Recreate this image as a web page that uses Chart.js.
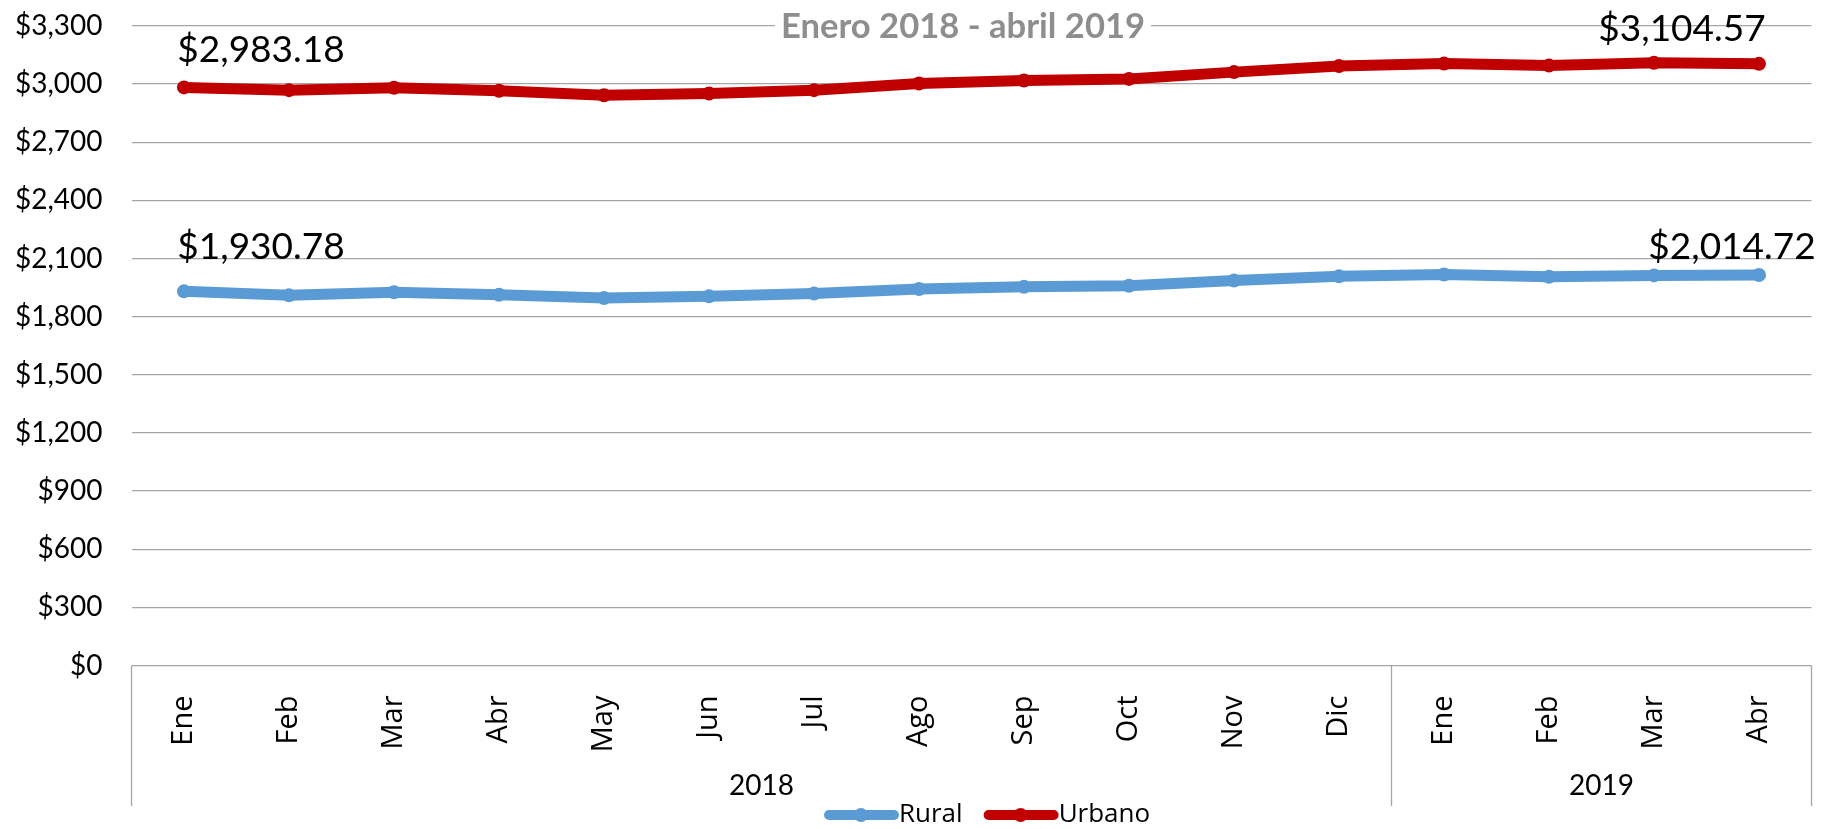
<!DOCTYPE html>
<html lang="es">
<head>
<meta charset="utf-8">
<title>Ingreso Rural / Urbano</title>
<script src="https://cdn.jsdelivr.net/npm/chart.js@4.4.1/dist/chart.umd.min.js"></script>
<style>
    html, body { margin: 0; padding: 0; background: #fff; }
    #contenedor { width: 1824px; height: 829px; }
</style>
</head>
<body>
<div id="contenedor">
    <canvas id="estadistica1" width="1824" height="829"></canvas>
</div>
<script>
const meses = ['Ene', 'Feb', 'Mar', 'Abr', 'May', 'Jun', 'Jul', 'Ago', 'Sep', 'Oct', 'Nov', 'Dic', 'Ene', 'Feb', 'Mar', 'Abr'];
const anios = ['2018', '2018', '2018', '2018', '2018', '2018', '2018', '2018', '2018', '2018', '2018', '2018', '2019', '2019', '2019', '2019'];
const rural = [1930.78, 1910, 1926, 1913, 1896, 1905, 1919, 1943, 1954, 1960, 1987, 2009, 2018, 2006, 2013, 2014.72];
const urbano = [2983.18, 2969, 2981, 2966, 2943, 2952, 2969, 3003, 3019, 3027, 3062, 3093, 3106, 3096, 3110, 3104.57];
const ticksY = [0, 300, 600, 900, 1200, 1500, 1800, 2100, 2400, 2700, 3000, 3300];
const titulo = 'Enero 2018 - abril 2019';

const colorRural = '#5B9BD5';
const colorUrbano = '#C00000';
const gris = '#a6a6a6';

function dinero(valor, decimales) {
    return '$' + valor.toLocaleString('en-US', {
        minimumFractionDigits: decimales,
        maximumFractionDigits: decimales
    });
}

// etiquetas de valor en el primer y ultimo punto de cada serie (desplazamiento en px)
const etiquetas = [
    [{ i: 0, dx: 77, dy: -44 }, { i: 15, dx: -27, dy: -28 }],
    [{ i: 0, dx: 77, dy: -37 }, { i: 15, dx: -77, dy: -35 }]
];

const extras = {
    id: 'extras',
    afterDraw(chart) {
        const ctx = chart.ctx;
        const area = chart.chartArea;
        const x = chart.scales.x;
        const abajo = 806;

        ctx.save();

        // caja del eje de categorias
        ctx.strokeStyle = gris;
        ctx.lineWidth = 1.3;
        let cortes = [area.left];
        for (let i = 1; i < anios.length; i++) {
            if (anios[i] !== anios[i - 1]) {
                cortes.push((x.getPixelForValue(i - 1) + x.getPixelForValue(i)) / 2);
            }
        }
        cortes.push(area.right);
        cortes.forEach(cx => {
            ctx.beginPath();
            ctx.moveTo(cx, area.bottom);
            ctx.lineTo(cx, abajo);
            ctx.stroke();
        });

        // anios centrados en su grupo
        ctx.fillStyle = '#000';
        ctx.font = '28px Lato';
        ctx.textAlign = 'center';
        ctx.textBaseline = 'middle';
        let grupos = [...new Set(anios)];
        grupos.forEach((anio, g) => {
            ctx.fillText(anio, (cortes[g] + cortes[g + 1]) / 2, 786);
        });

        // titulo, ajustado a 364px de ancho
        ctx.font = 'bold 30px Lato';
        let talla = 30 * 364 / ctx.measureText(titulo).width;
        ctx.font = 'bold ' + talla.toFixed(1) + 'px Lato';
        let ancho = ctx.measureText(titulo).width;
        let tx = 963;
        ctx.fillStyle = '#fff';
        ctx.fillRect(tx - ancho / 2 - 6, 6, ancho + 12, 40);
        ctx.fillStyle = '#8e8e8e';
        ctx.fillText(titulo, tx, 27);

        // etiquetas de datos
        ctx.fillStyle = '#000';
        ctx.font = '37px Lato';
        etiquetas.forEach((lista, d) => {
            let meta = chart.getDatasetMeta(d);
            let valores = chart.data.datasets[d].data;
            lista.forEach(e => {
                let p = meta.data[e.i];
                ctx.fillText(dinero(valores[e.i], 2), p.x + e.dx, p.y + e.dy);
            });
        });

        // leyenda
        ctx.font = '26px "Open Sans"';
        ctx.textAlign = 'left';
        let lx = 829;
        let ly = 815;
        chart.data.datasets.forEach(ds => {
            ctx.strokeStyle = ds.borderColor;
            ctx.lineWidth = 10;
            ctx.lineCap = 'round';
            ctx.beginPath();
            ctx.moveTo(lx, ly);
            ctx.lineTo(lx + 65, ly);
            ctx.stroke();
            ctx.fillStyle = ds.borderColor;
            ctx.beginPath();
            ctx.arc(lx + 32, ly, 7, 0, Math.PI * 2);
            ctx.fill();
            ctx.fillStyle = '#000';
            ctx.fillText(ds.label, lx + 70, ly);
            lx += 70 + ctx.measureText(ds.label).width + 26;
        });

        ctx.restore();
    }
};

let chart1;
function grafico1() {
    const ctx = document.getElementById('estadistica1');

    if (chart1) {
        chart1.destroy();
    }

    chart1 = new Chart(ctx, {
        type: 'line',
        data: {
            labels: meses,
            datasets: [
                {
                    label: 'Rural',
                    data: rural,
                    borderColor: colorRural,
                    backgroundColor: colorRural,
                    borderWidth: 11,
                    pointRadius: 7,
                    pointBorderWidth: 0,
                    pointBackgroundColor: colorRural,
                    tension: 0,
                },
                {
                    label: 'Urbano',
                    data: urbano,
                    borderColor: colorUrbano,
                    backgroundColor: colorUrbano,
                    borderWidth: 11,
                    pointRadius: 7,
                    pointBorderWidth: 0,
                    pointBackgroundColor: colorUrbano,
                    tension: 0,
                },
            ],
        },
        options: {
            responsive: false,
            animation: false,
            layout: {
                padding: { top: 26, right: 12.5, bottom: 0, left: 0 },
            },
            plugins: {
                legend: { display: false },
                title: { display: false },
                tooltip: { enabled: false },
            },
            scales: {
                x: {
                    offset: true,
                    grid: { display: false },
                    border: { display: false },
                    ticks: {
                        autoSkip: false,
                        minRotation: 90,
                        maxRotation: 90,
                        padding: 22,
                        color: '#000',
                        font: { family: 'Open Sans', size: 29 },
                    },
                    afterFit(scale) {
                        scale.height = 163.5;
                    },
                },
                y: {
                    min: ticksY[0],
                    max: ticksY[ticksY.length - 1],
                    afterBuildTicks(scale) {
                        scale.ticks = ticksY.map(v => ({ value: v }));
                    },
                    grid: {
                        color: gris,
                        lineWidth: 1.3,
                        drawTicks: true,
                        tickLength: 29,
                        tickColor: 'rgba(0,0,0,0)',
                    },
                    border: { display: false },
                    ticks: {
                        padding: 0,
                        color: '#000',
                        font: { family: 'Lato', size: 28 },
                        callback: v => dinero(v, 0),
                    },
                    afterFit(scale) {
                        scale.width = 131.5;
                    },
                },
            },
        },
        plugins: [extras],
    });
}

grafico1();
</script>
</body>
</html>
